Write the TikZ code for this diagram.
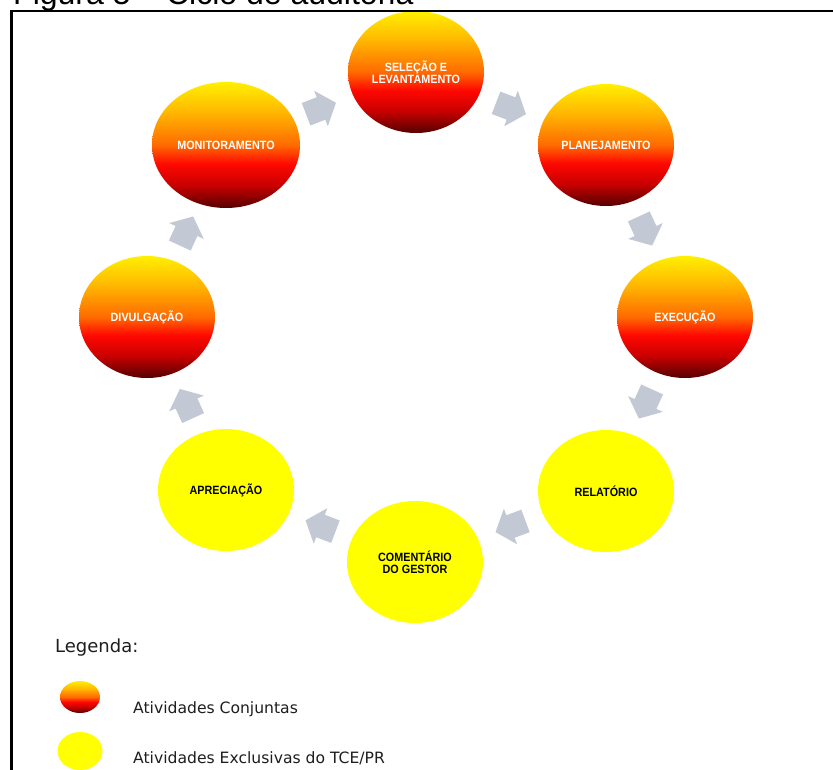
\documentclass[tikz,border=0pt]{standalone}
\usepackage{fontspec}
\setmainfont{Liberation Sans}
\newfontfamily\lblfont[FakeStretch=0.9]{Liberation Sans}
\newfontfamily\legfont{DejaVu Sans}
\usetikzlibrary{shapes.geometric,calc}
\definecolor{arrowgrey}{RGB}{194,201,212}
\definecolor{legtxt}{RGB}{30,30,30}
\definecolor{exyellow}{RGB}{255,255,0}
\definecolor{gA}{RGB}{85,0,0}
\definecolor{gB}{RGB}{200,0,0}
\definecolor{gC}{RGB}{255,8,0}
\definecolor{gD}{RGB}{255,106,0}
\definecolor{gE}{RGB}{255,180,0}
\definecolor{gF}{RGB}{255,240,0}
\pgfdeclareverticalshading{ballshade}{100bp}{color(0bp)=(gA); color(25bp)=(gA); color(34bp)=(gB); color(42.5bp)=(gC); color(50bp)=(gD); color(62.5bp)=(gE); color(75bp)=(gF); color(100bp)=(gF)}
\tikzset{
  lbl/.style={font=\lblfont\bfseries\fontsize{12}{12}\selectfont, align=center},
  joint/.style={ellipse, shading=ballshade, draw=none, inner sep=0pt,
    minimum width=136pt, minimum height=122pt, text=white, lbl},
  excl/.style={ellipse, fill=exyellow, draw=none, inner sep=0pt,
    minimum width=136pt, minimum height=122pt, text=black, lbl},
  legtext/.style={font=\legfont\fontsize{15.6}{18}\selectfont, text=legtxt, anchor=base west, inner sep=0pt},
  frameline/.style={line width=2.5pt, draw=black, line join=miter},
  pics/blockarrow/.style={code={
    \fill[arrowgrey] (-16,-12) -- (0,-12) -- (0,-19) -- (16,0) -- (0,19) -- (0,12) -- (-16,12) -- cycle;}}
}
\begin{document}
\begin{tikzpicture}[x=1pt, y=-1pt]
\useasboundingbox (0,0) rectangle (833,769);
\fill[white] (0,0) rectangle (833,769);

% caption (cut off at top)
\node[anchor=base west, inner sep=0pt, font=\fontsize{32}{36}\selectfont] (title) at (13,4) {Figura 5 – Ciclo de auditoria};

% cycle nodes
\node[joint] (sel) at (416,72) {SELEÇÃO E\\LEVANTAMENTO};
\node[joint] (plan) at (606,145) {PLANEJAMENTO};
\node[joint] (exec) at (685,317) {EXECUÇÃO};
\node[excl] (rel) at (606,491) {RELATÓRIO};
\node[excl] (com) at (415,562) {COMENTÁRIO\\DO GESTOR};
\node[excl] (apr) at (226,490) {APRECIAÇÃO};
\node[joint] (div) at (147,317) {DIVULGAÇÃO};
\node[joint, minimum width=148pt, minimum height=126pt] (mon) at (226,145) {MONITORAMENTO};

% block arrows between consecutive nodes
\foreach \a/\b in {sel/plan, plan/exec, exec/rel, rel/com, com/apr, apr/div, div/mon, mon/sel}{
  \path let \p1=(\a.center), \p2=(\b.center), \n1={atan2(\y2-\y1,\x2-\x1)} in
    ($(\a.center)!0.5!(\b.center)$) pic[rotate=\n1] {blockarrow};
}

% legend
\node[legtext, font=\legfont\fontsize{18}{20}\selectfont] (legtitle) at (55,652) {Legenda:};
\node[ellipse, shading=ballshade, draw=none, inner sep=0pt, minimum width=40pt, minimum height=32pt] (legjoint) at (80,697) {};
\node[ellipse, fill=exyellow, draw=none, inner sep=0pt, minimum width=45pt, minimum height=38pt] (legexcl) at (80,751) {};
\node[legtext] (legjointtxt) at (133,713) {Atividades Conjuntas};
\node[legtext] (legexcltxt) at (133,763) {Atividades Exclusivas do TCE/PR};

% frame
\draw[frameline] (11.5,775) -- (11.5,11) -- (840,11);
\end{tikzpicture}
\end{document}
